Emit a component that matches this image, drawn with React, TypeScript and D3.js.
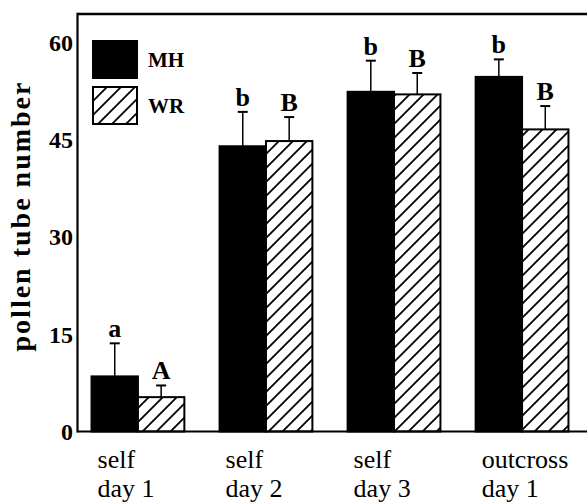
import React from 'react';
import * as d3 from 'd3';

// values
const categories = ['self|day 1', 'self|day 2', 'self|day 3', 'outcross|day 1'];
const seriesNames = ['MH', 'WR'];
const mhMeans = [8.5, 44.0, 52.4, 54.7];
const mhErrors = [5.1, 5.3, 4.8, 2.7];
const wrMeans = [5.3, 44.8, 52.0, 46.6];
const wrErrors = [1.8, 3.7, 3.3, 3.6];
const mhLetters = ['a', 'b', 'b', 'b'];
const wrLetters = ['A', 'B', 'B', 'B'];
const yTicks = [0, 15, 30, 45, 60];

const W = 587;
const H = 502;
const serif = "'Liberation Serif', 'DejaVu Serif', 'Times New Roman', Times, serif";

export default function App() {
  const left = 77.5;
  const top = 14;
  const bottom = 431.5;

  const y = d3.scaleLinear().domain([0, 64.4]).range([bottom, top]);
  const x = d3.scaleBand<string>()
    .domain(categories)
    .range([80, 580])
    .paddingInner(0.275)
    .paddingOuter(0.09);
  const xs = d3.scaleBand<string>().domain(seriesNames).range([0, x.bandwidth()]);

  const series = [
    { name: 'MH', means: mhMeans, errs: mhErrors, letters: mhLetters, fill: '#000' },
    { name: 'WR', means: wrMeans, errs: wrErrors, letters: wrLetters, fill: 'url(#hatch)' },
  ];

  return (
    <svg width={W} height={H} style={{ position: 'absolute', left: 0, top: 0, background: '#fff', fontFamily: serif }}>
      <defs>
        <pattern id="hatch" patternUnits="userSpaceOnUse" width={14} height={14}>
          <rect width={14} height={14} fill="#fff" />
          <path d="M0,14L14,0M-3.5,3.5L3.5,-3.5M10.5,17.5L17.5,10.5" stroke="#000" strokeWidth={1.8} />
        </pattern>
      </defs>

      {/* bars */}
      {series.map(s =>
        categories.map((c, i) => {
          const bx = (x(c) as number) + (xs(s.name) as number);
          const bw = xs.bandwidth();
          const cx = bx + bw / 2;
          const yTop = y(s.means[i]);
          const yErr = y(s.means[i] + s.errs[i]);
          return (
            <g key={s.name + c}>
              <rect x={bx} y={yTop} width={bw} height={bottom - yTop} fill={s.fill} stroke="#000" strokeWidth={2} />
              <line x1={cx} x2={cx} y1={yTop} y2={yErr} stroke="#000" strokeWidth={1.5} />
              <line x1={cx - 5} x2={cx + 5} y1={yErr} y2={yErr} stroke="#000" strokeWidth={2} />
              <text x={cx} y={yErr - 6} textAnchor="middle" fontWeight="bold" fontSize={26}>
                {s.letters[i]}
              </text>
            </g>
          );
        })
      )}

      {/* frame */}
      <line x1={left} x2={W + 5} y1={top} y2={top} stroke="#000" strokeWidth={2.5} />
      <line x1={left} x2={left} y1={top - 1.2} y2={bottom + 1} stroke="#000" strokeWidth={2.2} />
      <line x1={left} x2={W + 5} y1={bottom} y2={bottom} stroke="#000" strokeWidth={2.2} />

      {/* y ticks */}
      {yTicks.map(t => (
        <text key={t} x={73} y={y(t)} dy="0.35em" textAnchor="end" fontWeight="bold" fontSize={24}>
          {t}
        </text>
      ))}

      {/* y label */}
      <text
        transform="translate(30,216) rotate(-90)"
        textAnchor="middle"
        fontWeight="bold"
        fontSize={28}
        letterSpacing={2}
      >
        pollen tube number
      </text>

      {/* x labels */}
      {categories.map(c => {
        const [l1, l2] = c.split('|');
        const lx = (x(c) as number) + 6;
        return (
          <text key={c} fontSize={26}>
            <tspan x={lx} y={468}>{l1}</tspan>
            <tspan x={lx} y={497}>{l2}</tspan>
          </text>
        );
      })}

      {/* legend */}
      {series.map((s, i) => (
        <g key={s.name} transform={`translate(93,${41 + i * 46})`}>
          <rect width={44} height={37} fill={s.fill} stroke="#000" strokeWidth={2} />
          <text x={55} y={18.5} dy="0.35em" fontWeight="bold" fontSize={21}>
            {s.name}
          </text>
        </g>
      ))}
    </svg>
  );
}
